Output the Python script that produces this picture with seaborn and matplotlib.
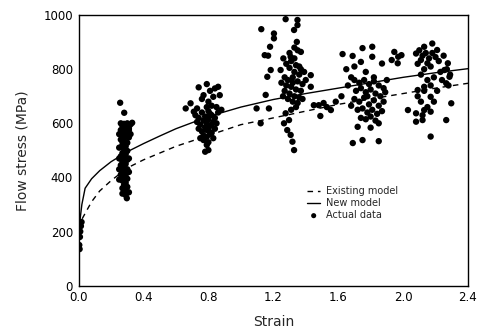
import matplotlib
matplotlib.use('Agg')
import matplotlib.pyplot as plt
import seaborn as sns
import pandas as pd

sns.set_style('white')
plt.rcParams['font.family'] = ['DejaVu Sans']

# Model curves (strain, flow stress in MPa)
curve_strain = [0.005, 0.01, 0.02, 0.04, 0.08, 0.13, 0.2, 0.3, 0.4, 0.5, 0.6,
                0.8, 1.0, 1.2, 1.4, 1.6, 1.8, 2.0, 2.2, 2.4]
new_model = [215, 250, 300, 360, 395, 425, 458, 495, 525, 553, 580,
             625, 660, 688, 710, 730, 750, 770, 787, 802]
existing_model = [210, 225, 245, 267, 310, 350, 388, 435, 465, 490, 515,
                  555, 595, 620, 645, 670, 690, 710, 730, 748]

# Measured points, one cluster per test strain
strain_c0 = [0.004, 0.008, 0.01, 0.014, 0.018, 0.006]
stress_c0 = [150, 180, 200, 220, 235, 135]

strain_c1 = [0.256, 0.281, 0.297, 0.290, 0.26, 0.28, 0.30, 0.32, 0.33, 0.27, 0.29, 0.31,
             0.26, 0.28, 0.30, 0.27, 0.29, 0.31, 0.26, 0.28, 0.30, 0.27, 0.29, 0.25,
             0.28, 0.30, 0.27, 0.29, 0.26, 0.28, 0.30, 0.27, 0.29, 0.26, 0.28, 0.30,
             0.27, 0.29, 0.26, 0.28, 0.30, 0.27, 0.25, 0.29, 0.28, 0.30, 0.27, 0.29,
             0.31, 0.31, 0.32, 0.25, 0.25, 0.31, 0.31, 0.25,
             0.28, 0.29, 0.27, 0.28, 0.29, 0.27, 0.28, 0.29, 0.28, 0.27]
stress_c1 = [676, 639, 323, 335, 600, 598, 600, 596, 602, 590, 585, 582,
             575, 570, 566, 555, 550, 548, 540, 535, 528, 520, 515, 510,
             505, 498, 490, 485, 478, 470, 465, 458, 450, 445, 438, 430,
             425, 418, 410, 402, 395, 388, 392, 380, 372, 365, 360, 352,
             345, 575, 560, 560, 470, 470, 420, 430,
             585, 562, 532, 512, 495, 470, 448, 410, 385, 340]

strain_c2 = [0.74, 0.79, 0.84, 0.87, 0.77, 0.83, 0.66, 0.69, 0.71, 0.73, 0.81, 0.86,
             0.76, 0.80, 0.72, 0.74, 0.76, 0.78, 0.80, 0.82, 0.84, 0.86, 0.88, 0.73,
             0.75, 0.77, 0.79, 0.81, 0.83, 0.85, 0.74, 0.76, 0.78, 0.80, 0.82, 0.84,
             0.77, 0.79, 0.81, 0.75, 0.83, 0.79, 0.82, 0.85, 0.77, 0.79, 0.78, 0.80,
             0.80, 0.78, 0.80, 0.82, 0.79, 0.81]
stress_c2 = [733, 745, 729, 704, 704, 698, 655, 674, 643, 655, 720, 735,
             690, 680, 630, 620, 640, 625, 645, 630, 620, 640, 650, 605,
             595, 610, 600, 590, 605, 600, 580, 570, 585, 575, 565, 580,
             555, 550, 560, 545, 545, 660, 665, 660, 538, 520, 495, 501,
             530, 612, 615, 595, 575, 635]

strain_c3 = [1.276, 1.349, 1.349, 1.126, 1.328, 1.204, 1.204, 1.18, 1.345, 1.147, 1.168,
             1.262, 1.307, 1.37, 1.184, 1.163, 1.245, 1.431, 1.153, 1.431, 1.097, 1.173,
             1.122, 1.276, 1.266, 1.297, 1.286, 1.307, 1.318, 1.328,
             1.28, 1.31, 1.34, 1.37, 1.30, 1.33, 1.36, 1.27, 1.29, 1.32, 1.35, 1.38,
             1.28, 1.31, 1.34, 1.37, 1.30, 1.33, 1.36, 1.26, 1.29, 1.32, 1.35, 1.40,
             1.39, 1.25, 1.33, 1.30, 1.35, 1.32, 1.27, 1.34, 1.31, 1.38, 1.36, 1.33]
stress_c3 = [985, 982, 963, 948, 945, 932, 914, 883, 901, 852, 850,
             840, 846, 864, 797, 772, 797, 778, 705, 735, 655, 655,
             600, 637, 600, 612, 575, 557, 532, 501,
             820, 830, 815, 800, 805, 790, 780, 770, 760, 770, 755, 745,
             740, 735, 725, 720, 710, 700, 695, 700, 690, 680, 675, 760,
             790, 750, 840, 860, 870, 750, 720, 660, 650, 690, 810, 880]

strain_c4 = [1.627, 1.689, 1.75, 1.81, 1.81, 1.74, 1.87, 1.93, 1.97, 1.69, 1.75, 1.85,
             1.72, 1.80, 1.85, 1.45, 1.48, 1.51, 1.555, 1.585, 1.49, 1.53, 1.62, 1.66,
             1.68, 1.65, 1.70, 1.77, 1.70, 1.73, 1.76, 1.79, 1.82, 1.85, 1.88, 1.71,
             1.74, 1.77, 1.80, 1.83, 1.86, 1.89, 1.70, 1.73, 1.76, 1.79, 1.82, 1.85,
             1.88, 1.72, 1.75, 1.78, 1.81, 1.84, 1.87, 1.74, 1.77, 1.80, 1.83, 1.90,
             1.68, 1.78, 1.82]
stress_c4 = [856, 849, 878, 883, 846, 827, 821, 834, 846, 527, 538, 534,
             587, 584, 600, 667, 667, 675, 649, 680, 627, 660, 700, 740,
             770, 800, 810, 790, 760, 750, 760, 745, 755, 740, 730, 720,
             730, 715, 725, 710, 700, 715, 690, 680, 695, 670, 685, 665,
             680, 650, 655, 640, 650, 635, 645, 620, 615, 625, 610, 760,
             665, 700, 770]

strain_c5 = [1.946, 1.99, 1.967, 2.13, 2.18, 2.21, 2.08, 2.11, 2.15, 2.276, 2.255, 2.286,
             2.266, 2.09, 2.13, 2.17, 2.11, 2.19, 2.297, 2.08, 2.13, 2.17, 2.03, 2.08,
             2.12, 2.266, 2.17, 2.10, 2.12, 2.14, 2.16, 2.18, 2.20, 2.09, 2.13, 2.17,
             2.22, 2.25, 2.27, 2.29, 2.23, 2.11, 2.15, 2.19, 2.24, 2.28, 2.13, 2.17,
             2.21, 2.09, 2.15, 2.12]
stress_c5 = [864, 852, 822, 883, 895, 871, 858, 834, 822, 822, 797, 772,
             748, 723, 735, 698, 680, 680, 674, 637, 649, 643, 649, 606,
             612, 612, 551, 870, 850, 860, 840, 860, 845, 820, 800, 810,
             830, 850, 800, 780, 790, 780, 760, 770, 760, 740, 720, 740,
             720, 700, 660, 630]

data = pd.DataFrame({
    'strain': strain_c0 + strain_c1 + strain_c2 + strain_c3 + strain_c4 + strain_c5,
    'stress': stress_c0 + stress_c1 + stress_c2 + stress_c3 + stress_c4 + stress_c5,
})
curves = pd.DataFrame({'strain': curve_strain, 'new': new_model, 'existing': existing_model})

fig = plt.figure(figsize=(4.78, 3.36), dpi=100)
ax = fig.add_axes([0.1645, 0.150, 0.8145, 0.805])

sns.lineplot(data=curves, x='strain', y='existing', ax=ax, color='black', lw=1,
             dashes=False, label='Existing model')
ax.lines[-1].set_dashes([4, 3.5])
sns.lineplot(data=curves, x='strain', y='new', ax=ax, color='black', lw=1,
             label='New model')
sns.scatterplot(data=data, x='strain', y='stress', ax=ax, color='black', s=21,
                edgecolor='none', label='Actual data')

ax.set_xlim(0, 2.4)
ax.set_ylim(0, 1000)
ax.set_xticks([0.0, 0.4, 0.8, 1.2, 1.6, 2.0, 2.4])
ax.set_xticklabels(['0.0', '0.4', '0.8', '1.2', '1.6', '2.0', '2.4'])
ax.set_yticks([0, 200, 400, 600, 800, 1000])
ax.tick_params(direction='in', length=3.5, width=1, labelsize=8.5, colors='black', pad=4)
for sp in ax.spines.values():
    sp.set_color('black')
    sp.set_linewidth(1)

ax.set_xlabel('Strain', fontsize=10, labelpad=8)
ax.set_ylabel('Flow stress (MPa)', fontsize=10, labelpad=10)

ax.legend(loc='upper left', bbox_to_anchor=(0.575, 0.385), frameon=False, fontsize=7,
          handlelength=1.3, handletextpad=0.6, labelspacing=0.2, borderpad=0,
          markerscale=0.8)

fig.savefig('out.png', dpi=100)
